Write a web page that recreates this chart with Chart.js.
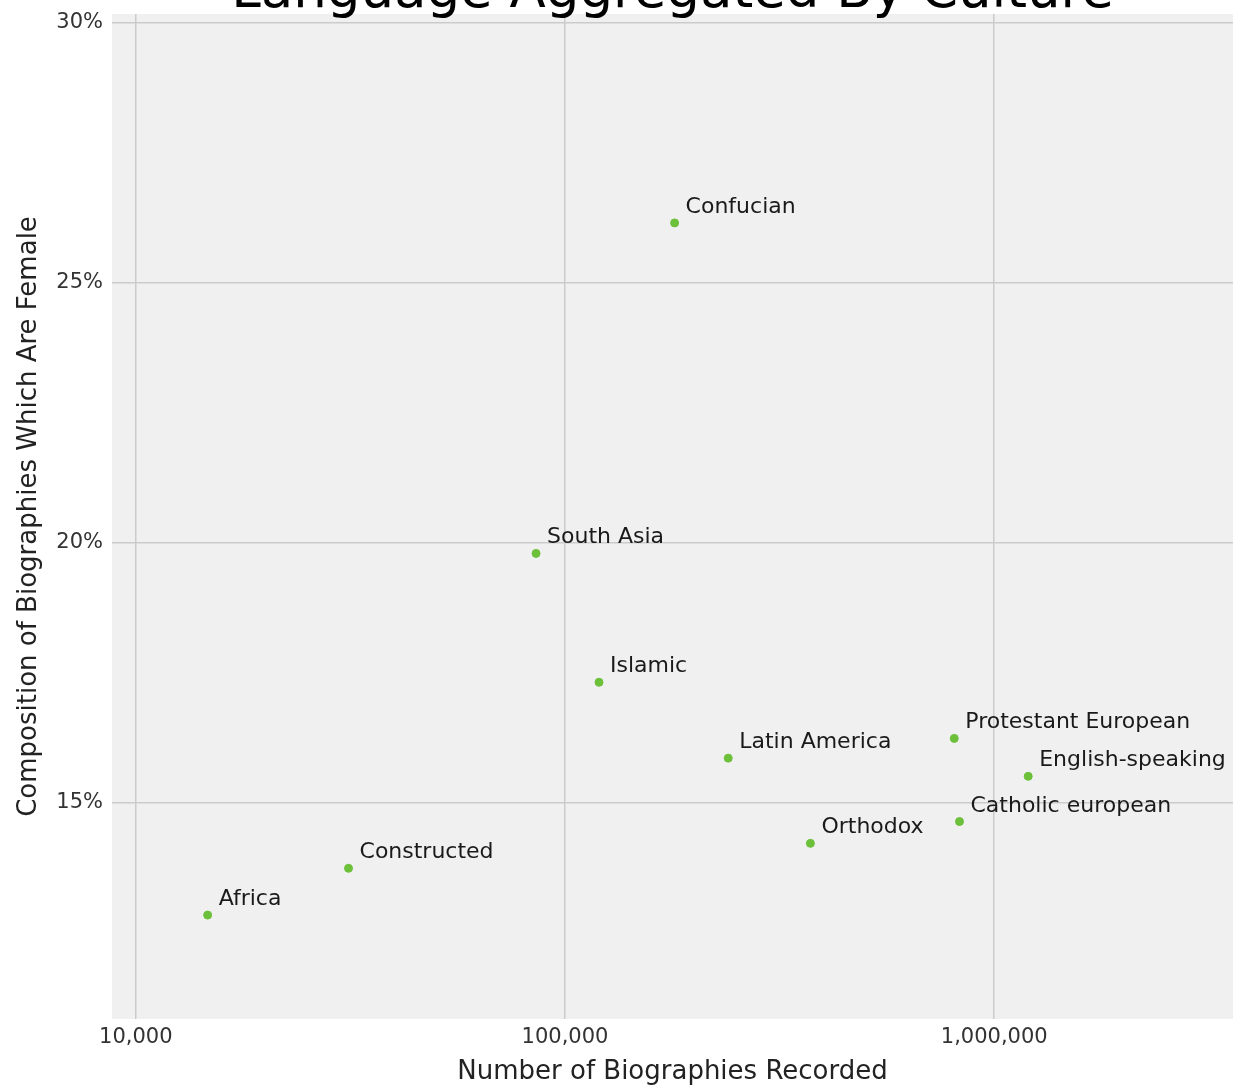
<!DOCTYPE html>
<html>
<head>
<meta charset="utf-8">
<title>Language Aggregated By Culture</title>
<script src="https://cdn.jsdelivr.net/npm/chart.js@4/dist/chart.umd.min.js"></script>
<style>
  html, body { margin: 0; padding: 0; background: #ffffff; }
  #wrap { width: 1238px; height: 1088px; position: relative; }
</style>
</head>
<body>
<div id="wrap"><canvas id="myChart"></canvas></div>
<script>
const cultures = ['Confucian', 'South Asia', 'Islamic', 'Latin America', 'Protestant European',
  'English-speaking', 'Catholic european', 'Orthodox', 'Constructed', 'Africa'];
const biographies = [180000, 85600, 120000, 240000, 807000, 1200000, 830000, 373000, 31300, 14700];
const femalePct = [26.15, 19.79, 17.31, 15.85, 16.23, 15.5, 14.63, 14.21, 13.73, 12.83];
const xTicks = [10000, 100000, 1000000];
const yTicks = [15, 20, 25, 30];

const FONT = "'DejaVu Sans', sans-serif";

const points = cultures.map((c, i) => ({ x: biographies[i], y: femalePct[i], label: c }));

const plotBg = {
  id: 'plotBg',
  beforeDraw(chart) {
    const { ctx, chartArea: a } = chart;
    ctx.save();
    ctx.fillStyle = '#f0f0f0';
    ctx.fillRect(a.left, a.top, a.right - a.left, a.bottom - a.top);
    ctx.restore();
  }
};

const pointLabels = {
  id: 'pointLabels',
  afterDatasetsDraw(chart) {
    const { ctx } = chart;
    const meta = chart.getDatasetMeta(0);
    ctx.save();
    ctx.font = '22px ' + FONT;
    ctx.fillStyle = '#1a1a1a';
    ctx.textAlign = 'left';
    ctx.textBaseline = 'alphabetic';
    meta.data.forEach((el, i) => {
      ctx.fillText(cultures[i], el.x + 11, el.y - 10);
    });
    ctx.restore();
  }
};

// title sits partly above the canvas, as in the source image
const cutTitle = {
  id: 'cutTitle',
  afterDraw(chart) {
    const { ctx, chartArea: a } = chart;
    ctx.save();
    ctx.font = '53px ' + FONT;
    ctx.fillStyle = '#000000';
    ctx.textAlign = 'center';
    ctx.textBaseline = 'alphabetic';
    ctx.fillText('Language Aggregated By Culture', (a.left + a.right) / 2, a.top - 7);
    ctx.restore();
  }
};

const data = {
  datasets: [
    {
      label: 'Cultures',
      data: points,
      backgroundColor: '#6cc03a',
      borderColor: '#6cc03a',
      pointRadius: 4,
      pointHoverRadius: 4
    }
  ]
};

const config = {
  type: 'scatter',
  data: data,
  options: {
    responsive: true,
    maintainAspectRatio: false,
    animation: false,
    layout: { padding: { top: 14, right: 2, left: 0, bottom: 0 } },
    plugins: {
      legend: { display: false },
      tooltip: { enabled: false }
    },
    scales: {
      x: {
        type: 'logarithmic',
        min: 8800,
        max: 3600000,
        afterBuildTicks(axis) { axis.ticks = xTicks.map(v => ({ value: v })); },
        afterFit(axis) {
          axis.height = 69;
          axis.paddingLeft = 0;
          axis.paddingRight = 0;
        },
        border: { display: false },
        grid: { color: '#cbcbcb', lineWidth: 1.5, drawTicks: false },
        ticks: {
          padding: 6,
          color: '#333333',
          font: { family: FONT, size: 21 },
          callback: v => v.toLocaleString('en-US')
        },
        title: {
          display: true,
          text: 'Number of Biographies Recorded',
          color: '#222222',
          font: { family: FONT, size: 26 },
          padding: { top: 2, bottom: 0 }
        }
      },
      y: {
        min: 10.83,
        max: 30.17,
        afterBuildTicks(axis) { axis.ticks = yTicks.map(v => ({ value: v })); },
        afterFit(axis) {
          axis.width = 112;
          axis.paddingTop = 0;
          axis.paddingBottom = 0;
        },
        border: { display: false },
        grid: { color: '#cbcbcb', lineWidth: 1.5, drawTicks: false },
        ticks: {
          padding: 9,
          color: '#333333',
          font: { family: FONT, size: 21 },
          callback: v => v + '%'
        },
        title: {
          display: true,
          text: 'Composition of Biographies Which Are Female',
          color: '#222222',
          font: { family: FONT, size: 26 },
          padding: { top: 14, bottom: 0 }
        }
      }
    }
  },
  plugins: [plotBg, pointLabels, cutTitle]
};

const myChart = new Chart(document.getElementById('myChart'), config);
</script>
</body>
</html>
